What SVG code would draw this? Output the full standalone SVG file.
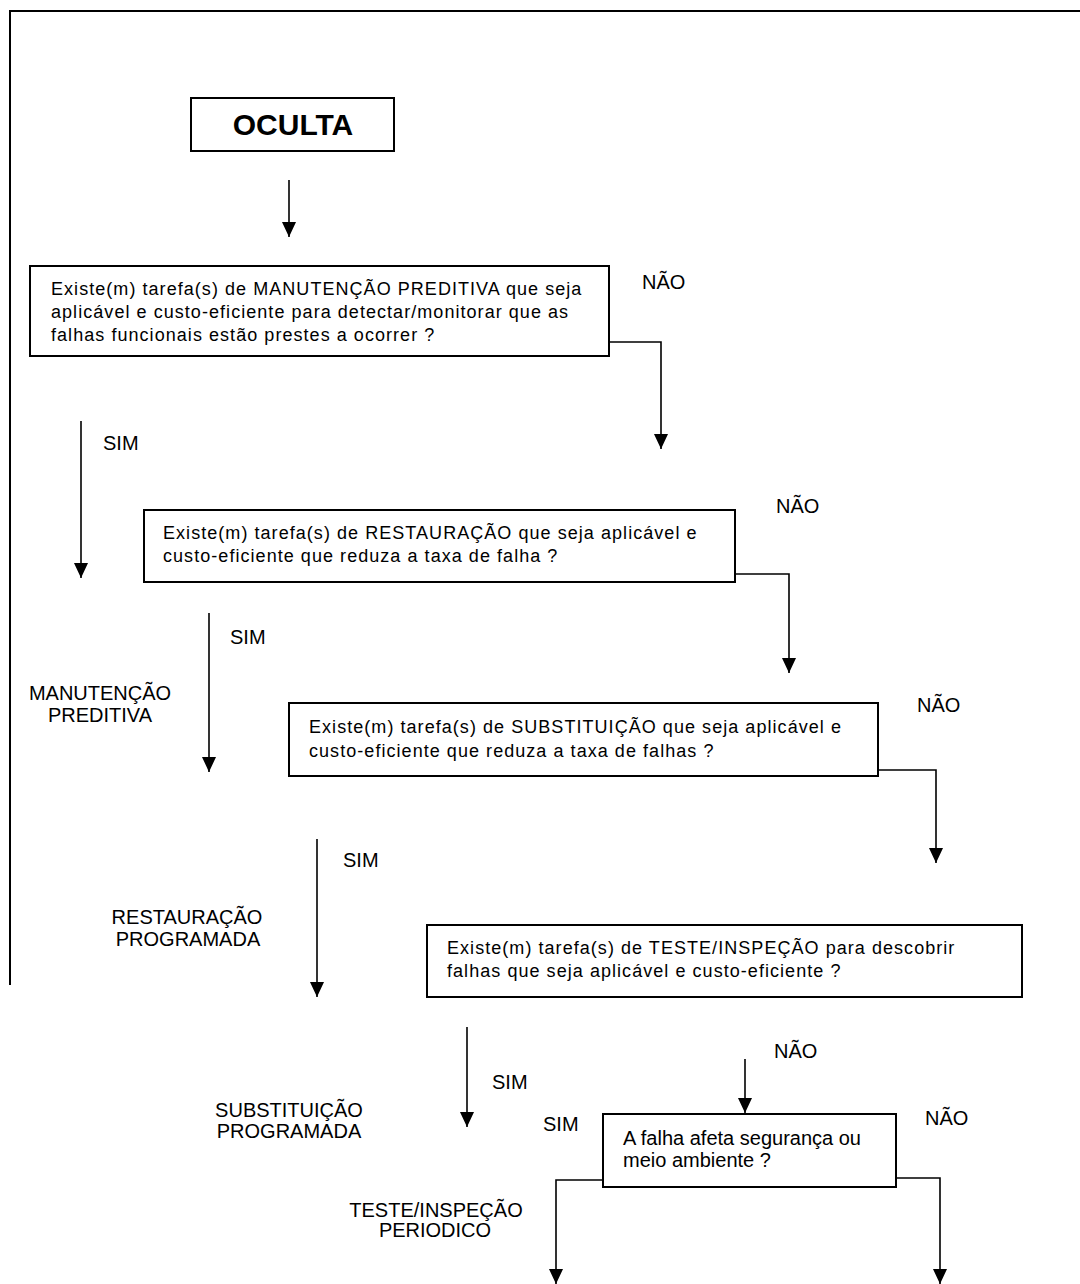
<svg xmlns="http://www.w3.org/2000/svg" width="1080" height="1284" viewBox="0 0 1080 1284">
  <style>
    .frame { stroke: #000; stroke-width: 2; fill: none; }
    .box { fill: #fff; stroke: #000; stroke-width: 2; }
    .q { font-family: "Liberation Sans", Arial, sans-serif; font-size: 18px; letter-spacing: 1.05px; fill: #000; }
    .q20 { font-family: "Liberation Sans", Arial, sans-serif; font-size: 20px; fill: #000; }
    .lbl { font-family: "Liberation Sans", Arial, sans-serif; font-size: 20px; fill: #000; }
    .mid { text-anchor: middle; }
    .title { font-family: "Liberation Sans", Arial, sans-serif; font-size: 30px; font-weight: bold; fill: #000; text-anchor: middle; }
    .conn { stroke: #000; stroke-width: 1.6; fill: none; marker-end: url(#arrow); }
  </style>
  <defs>
    <!-- solid triangular arrowhead, tip at the path end -->
    <marker id="arrow" markerUnits="userSpaceOnUse" markerWidth="15" markerHeight="14" viewBox="0 0 15 14" refX="15" refY="7" orient="auto">
      <path d="M0,0 L15,7 L0,14 Z" fill="#000"/>
    </marker>
  </defs>

  <rect width="1080" height="1284" fill="#fff"/>

  <!-- page frame: top and left rules -->
  <g id="frame">
    <line class="frame" x1="10" y1="11" x2="1080" y2="11"/>
    <line class="frame" x1="10" y1="10" x2="10" y2="985"/>
  </g>

  <g id="n-oculta">
    <rect class="box" x="191" y="98" width="203" height="53"/>
    <text class="title" x="293" y="135">OCULTA</text>
  </g>

  <g id="n-preditiva">
    <rect class="box" x="30" y="266" width="579" height="90"/>
    <text class="q" x="51" y="295">Existe(m) tarefa(s) de MANUTENÇÃO PREDITIVA que seja</text>
    <text class="q" x="51" y="318">aplicável e custo-eficiente para detectar/monitorar que as</text>
    <text class="q" x="51" y="341">falhas funcionais estão prestes a ocorrer ?</text>
  </g>

  <g id="n-restauracao">
    <rect class="box" x="144" y="510" width="591" height="72"/>
    <text class="q" x="163" y="539">Existe(m) tarefa(s) de RESTAURAÇÃO que seja aplicável e</text>
    <text class="q" x="163" y="562">custo-eficiente que reduza a taxa de falha ?</text>
  </g>

  <g id="n-substituicao">
    <rect class="box" x="289" y="703" width="589" height="73"/>
    <text class="q" x="309" y="733">Existe(m) tarefa(s) de SUBSTITUIÇÃO que seja aplicável e</text>
    <text class="q" x="309" y="757">custo-eficiente que reduza a taxa de falhas ?</text>
  </g>

  <g id="n-teste">
    <rect class="box" x="427" y="925" width="595" height="72"/>
    <text class="q" x="447" y="954">Existe(m) tarefa(s) de TESTE/INSPEÇÃO para descobrir</text>
    <text class="q" x="447" y="977">falhas que seja aplicável e custo-eficiente ?</text>
  </g>

  <g id="n-seguranca">
    <rect class="box" x="603" y="1114" width="293" height="73"/>
    <text class="q20" x="623" y="1145">A falha afeta segurança ou</text>
    <text class="q20" x="623" y="1167">meio ambiente ?</text>
  </g>

  <!-- outcome labels -->
  <g id="r-manutencao">
    <text class="lbl mid" x="100" y="700">MANUTENÇÃO</text>
    <text class="lbl mid" x="100" y="722">PREDITIVA</text>
  </g>
  <g id="r-restauracao">
    <text class="lbl mid" x="187" y="924">RESTAURAÇÃO</text>
    <text class="lbl mid" x="188" y="946">PROGRAMADA</text>
  </g>
  <g id="r-substituicao">
    <text class="lbl mid" x="289" y="1117">SUBSTITUIÇÃO</text>
    <text class="lbl mid" x="289" y="1138">PROGRAMADA</text>
  </g>
  <g id="r-teste">
    <text class="lbl mid" x="436" y="1217">TESTE/INSPEÇÃO</text>
    <text class="lbl mid" x="435" y="1237">PERIODICO</text>
  </g>

  <!-- connectors -->
  <g id="connectors">
    <path class="conn" d="M289,180 V237"/>
    <path class="conn" d="M81,421 V578"/>
    <path class="conn" d="M609,342 H661 V449"/>
    <path class="conn" d="M209,613 V772"/>
    <path class="conn" d="M735,574 H789 V673"/>
    <path class="conn" d="M317,839 V997"/>
    <path class="conn" d="M878,770 H936 V863"/>
    <path class="conn" d="M467,1027 V1127"/>
    <path class="conn" d="M745,1059 V1113"/>
    <path class="conn" d="M603,1180 H556 V1284"/>
    <path class="conn" d="M896,1178 H940 V1284"/>

    <text class="lbl" x="642" y="289">NÃO</text>
    <text class="lbl" x="103" y="450">SIM</text>
    <text class="lbl" x="776" y="513">NÃO</text>
    <text class="lbl" x="230" y="644">SIM</text>
    <text class="lbl" x="917" y="712">NÃO</text>
    <text class="lbl" x="343" y="867">SIM</text>
    <text class="lbl" x="774" y="1058">NÃO</text>
    <text class="lbl" x="492" y="1089">SIM</text>
    <text class="lbl" x="925" y="1125">NÃO</text>
    <text class="lbl" x="543" y="1131">SIM</text>
  </g>
</svg>
